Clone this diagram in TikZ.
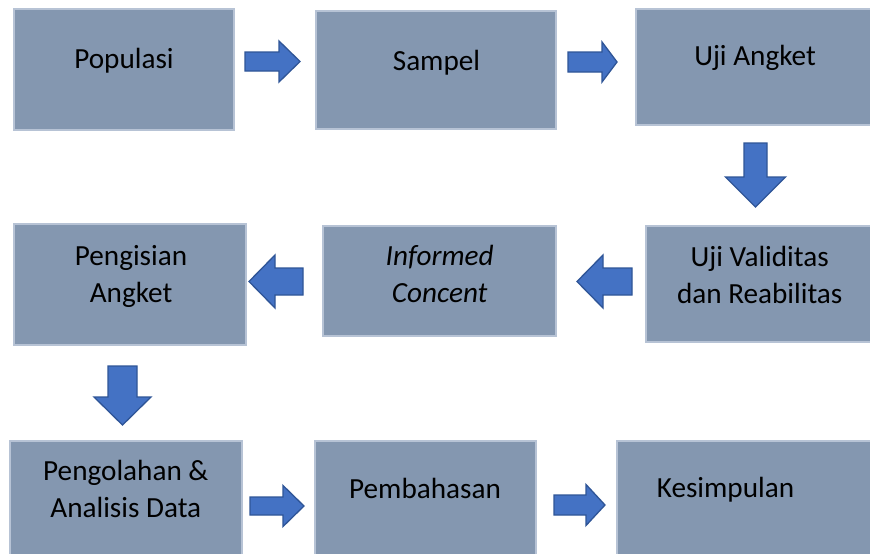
\documentclass[tikz,border=0pt]{standalone}
\usepackage{fontspec}
\setmainfont{Carlito}
\definecolor{boxfill}{HTML}{8497B0}
\definecolor{boxline}{HTML}{B7C3D5}
\definecolor{arrfill}{HTML}{4472C4}
\definecolor{arrline}{HTML}{2F5597}
\tikzset{
  box/.style={rectangle, fill=boxfill, draw=boxline, line width=2.2pt, inner sep=0pt},
  lbl/.style={anchor=base, align=center, inner sep=0pt, font=\fontsize{29.2}{37}\selectfont, text=black},
  blockarrow/.style={fill=arrfill, draw=arrline, line width=1.3pt, line join=miter}
}
% box: name, x1, y1, x2, y2
\newcommand\mybox[5]{\node[box, minimum width={(#4-#2-2.2)*1pt}, minimum height={(#5-#3-2.2)*1pt}] (#1) at ({(#2+#4)/2},{(#3+#5)/2}) {};}
% horizontal arrow: tail x, head-base x, tip x, y centre, shaft half, head half
\newcommand\harr[6]{\draw[blockarrow] (#1,{#4-#5}) -- (#2,{#4-#5}) -- (#2,{#4-#6}) -- (#3,#4) -- (#2,{#4+#6}) -- (#2,{#4+#5}) -- (#1,{#4+#5}) -- cycle;}
% vertical arrow: x centre, tail y, head-base y, tip y, shaft half, head half
\newcommand\varr[6]{\draw[blockarrow] ({#1-#5},#2) -- ({#1-#5},#3) -- ({#1-#6},#3) -- (#1,#4) -- ({#1+#6},#3) -- ({#1+#5},#3) -- ({#1+#5},#2) -- cycle;}
\begin{document}
\begin{tikzpicture}[x=1pt,y=-1pt]
\clip (0,0) rectangle (870,554);
\fill[white] (0,0) rectangle (870,554);
% boxes
\mybox{b1}{13}{8}{235}{131}
\mybox{b2}{315}{10}{557}{130}
\mybox{b3}{635}{8}{874}{126}
\mybox{b4}{13}{223}{247}{346}
\mybox{b5}{322}{225}{557}{337}
\mybox{b6}{645}{225}{874}{343}
\mybox{b7}{9}{440}{243}{570}
\mybox{b8}{314}{440}{537}{570}
\mybox{b9}{616}{440}{900}{570}
% labels (base anchor = baseline of last line)
\node[lbl] (t1) at (124,68.3) {Populasi};
\node[lbl] (t2) at (436.5,70) {Sampel};
\node[lbl] (t3) at (755,65) {Uji Angket};
\node[lbl] (t4) at (131,302) {Pengisian\\Angket};
\node[lbl] (t5) at (439.7,302) {\itshape Informed\\\itshape Concent};
\node[lbl] (t6) at (759.7,303) {Uji Validitas\\dan Reabilitas};
\node[lbl] (t7) at (125.8,517) {Pengolahan \&\\Analisis Data};
\node[lbl] (t8) at (425,498.3) {Pembahasan};
\node[lbl] (t9) at (725.5,497.3) {Kesimpulan};
% block arrows
\harr{245}{279}{300}{61.5}{9.5}{20.5}
\harr{568}{602}{617}{62}{10}{20}
\varr{755.5}{143}{177}{207}{11.5}{30}
\harr{632}{603}{577}{281.5}{13.5}{26.5}
\harr{303}{275}{249}{281.5}{13.5}{26.5}
\varr{122.5}{366}{397}{425}{14.5}{28.5}
\harr{250}{283}{304}{506}{9}{20.5}
\harr{554}{586}{605}{505}{10}{20.5}
\end{tikzpicture}
\end{document}
